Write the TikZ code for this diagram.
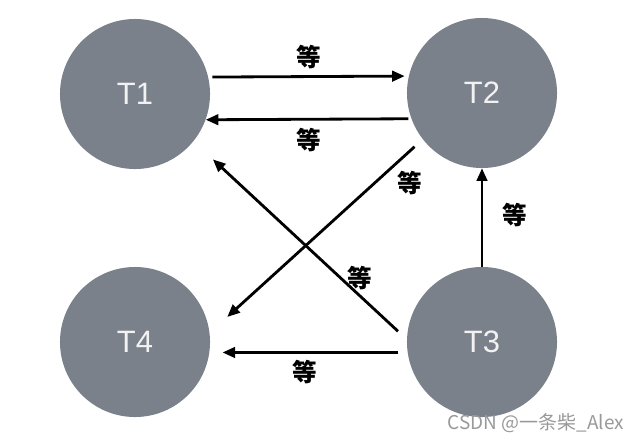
\documentclass[tikz,border=0pt]{standalone}
\usepackage{fontspec}
\setmainfont{Liberation Sans}
\newfontfamily\cjk{Noto Sans CJK SC}
\usepackage{xcolor}
\usetikzlibrary{arrows.meta,positioning}
\definecolor{tgray}{RGB}{122,129,139}
\tikzset{
  tnode/.style={circle,fill=tgray,minimum size=3.75cm,inner sep=0pt,text=white!95!black,font=\fontsize{22}{24}\selectfont},
  lbl/.style={font=\cjk\bfseries\fontsize{17.5}{20}\selectfont,inner sep=0pt},
  wm/.style={font=\cjk\fontsize{13.5}{15}\selectfont,text=black!40,inner sep=0pt},
  arr/.style={-{Triangle[length=9pt,width=7.5pt]},line width=2pt},
}
\begin{document}
\begin{tikzpicture}[x=0.025cm,y=-0.025cm]
\useasboundingbox (0,0) rectangle (640,443);
\node[tnode] (t1) at (135,94) {T1};
\node[tnode] (t2) at (482,93) {T2};
\node[tnode] (t3) at (482,342) {T3};
\node[tnode] (t4) at (135,342) {T4};
% waits
\draw[arr,shorten <=2.8pt,shorten >=2.8pt] (t1.13) -- (t2.167);
\draw[arr,shorten <=2pt] (t2.200) -- (t1.-20);
\draw[arr] (t3.north) -- (t2.south);
\draw[arr,shorten <=7pt,shorten >=9.2pt] (t3.188.4) -- (t4.-8.4);
\draw[arr,shorten <=8.5pt,shorten >=18.8pt] (t3.178.7) -- (t1.-39.8);
\draw[arr,shorten <=7.8pt,shorten >=16.8pt] (t2.218.9) -- (t4.7);
\node[lbl] (l12) at (309,57) {等};
\node[lbl] (l21) at (309,140) {等};
\node[lbl] (l24) at (410,183) {等};
\node[lbl] (l31) at (360,278) {等};
\node[lbl] (l32) at (515,215) {等};
\node[lbl] (l34) at (305,372) {等};
\node[wm] (wm) at (536,423) {CSDN @一条柴\_Alex};
\end{tikzpicture}
\end{document}
